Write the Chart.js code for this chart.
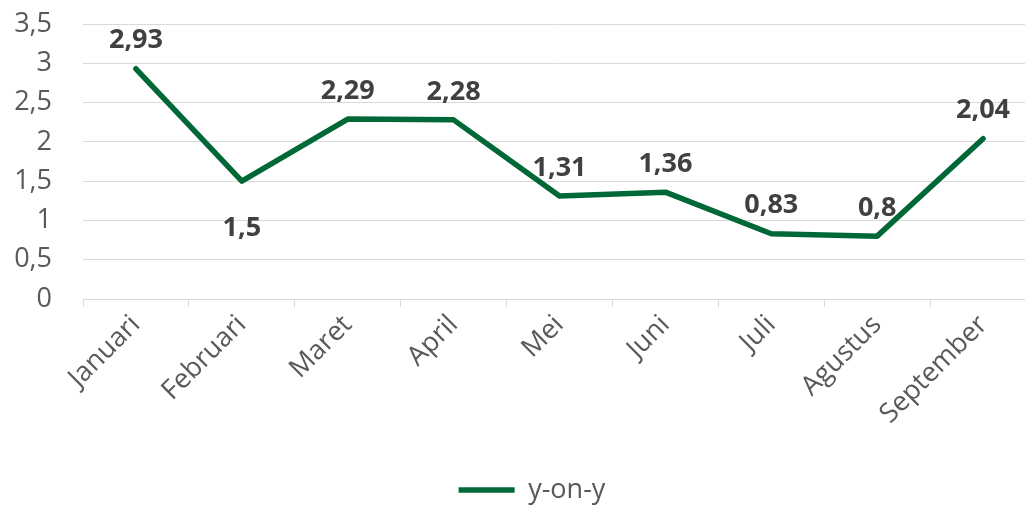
<!DOCTYPE html>
<html>
<head>
<meta charset="utf-8">
<script src="https://cdn.jsdelivr.net/npm/chart.js@4/dist/chart.umd.min.js"></script>
<style>
  html, body { margin: 0; padding: 0; background: #fff; }
  #wrap { width: 1025px; height: 508px; overflow: hidden; }
</style>
</head>
<body>
<!-- the plot runs a little past the right edge in the reference, so the canvas is wider and clipped -->
<div id="wrap"><canvas id="myChart" width="1036" height="508"></canvas></div>
<script>
// data
const months = ['Januari', 'Februari', 'Maret', 'April', 'Mei', 'Juni', 'Juli', 'Agustus', 'September']
const yoy = [2.93, 1.5, 2.29, 2.28, 1.31, 1.36, 0.83, 0.8, 2.04]
const labelSide = ['top', 'bottom', 'top', 'top', 'top', 'top', 'top', 'top', 'top']
const yTicks = [0, 0.5, 1, 1.5, 2, 2.5, 3, 3.5]

const fmt = v => String(v).replace('.', ',')
const green = '#006837'
const font = "'Open Sans', 'Noto Sans', sans-serif"

// simple value labels, no datalabels plugin available offline
const valueLabels = {
  id: 'valueLabels',
  afterLayout(chart) {
    // legend sits a bit lower and right of where chart.js centres it
    const lg = chart.legend
    const h = lg.bottom - lg.top
    const shift = 532 - (lg.left + lg.right) / 2
    lg.left += shift
    lg.right += shift
    lg.top = 493 - h / 2
    lg.bottom = lg.top + h
  },
  afterDatasetsDraw(chart) {
    const ctx = chart.ctx
    const meta = chart.getDatasetMeta(0)
    ctx.save()
    ctx.font = 'bold 27px ' + font
    ctx.fillStyle = '#404040'
    ctx.textAlign = 'center'
    ctx.textBaseline = 'middle'
    meta.data.forEach((pt, i) => {
      const dy = labelSide[i] === 'bottom' ? 47 : -28
      ctx.fillText(fmt(yoy[i]), pt.x, pt.y + dy)
    })
    ctx.restore()
  }
}

new Chart(document.getElementById('myChart'), {
  type: 'line',
  data: {
    labels: months,
    datasets: [{
      label: 'y-on-y',
      data: yoy,
      borderColor: green,
      backgroundColor: green,
      borderWidth: 5.5,
      borderCapStyle: 'round',
      borderJoinStyle: 'round',
      tension: 0,
      pointRadius: 0,
      pointHoverRadius: 0,
      pointStyle: 'line'
    }]
  },
  options: {
    responsive: false,
    animation: false,
    layout: { padding: { top: 24, right: 0, bottom: 0, left: 0 } },
    plugins: {
      legend: {
        position: 'bottom',
        labels: {
          usePointStyle: true,
          pointStyle: 'line',
          pointStyleWidth: 56,
          boxHeight: 10,
          color: '#595959',
          font: { family: font, size: 27 },
          padding: 4
        }
      },
      tooltip: { enabled: false }
    },
    scales: {
      x: {
        offset: true,
        grid: {
          offset: true,
          drawOnChartArea: false,
          drawTicks: true,
          tickLength: 8,
          color: '#d9d9d9'
        },
        border: { color: '#d9d9d9' },
        ticks: {
          color: '#595959',
          font: { family: font, size: 27 },
          minRotation: 45,
          maxRotation: 45,
          padding: 2
        },
        afterFit: s => { s.height = 168; s.paddingLeft = 0; s.paddingRight = 0 }
      },
      y: {
        min: 0,
        max: 3.5,
        afterBuildTicks: s => { s.ticks = yTicks.map(v => ({ value: v })) },
        grid: { color: '#d9d9d9', drawTicks: false },
        border: { display: false },
        ticks: {
          color: '#595959',
          font: { family: font, size: 27 },
          padding: 31,
          callback: v => fmt(v)
        },
        afterFit: s => { s.width = 83; s.paddingTop = 0; s.paddingBottom = 0 }
      }
    }
  },
  plugins: [valueLabels]
})
</script>
</body>
</html>
